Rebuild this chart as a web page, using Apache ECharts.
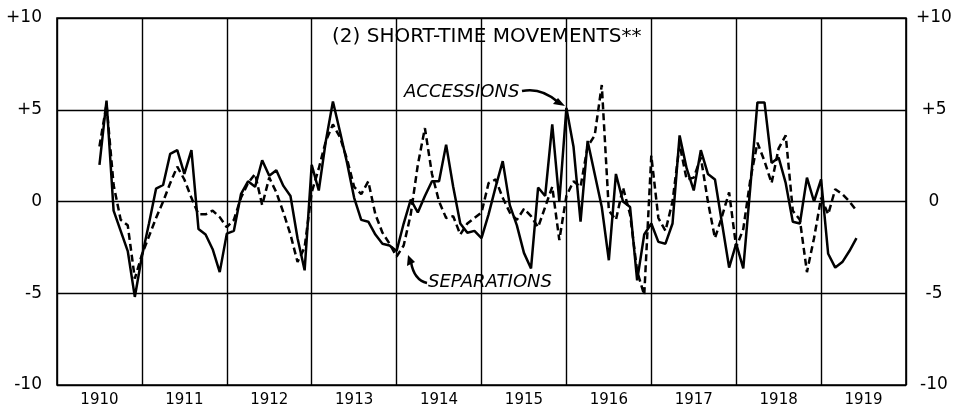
<!DOCTYPE html>
<html><head><meta charset="utf-8">
<script src="https://cdn.jsdelivr.net/npm/echarts@6/dist/echarts.min.js"></script>
<style>html,body{margin:0;padding:0;background:#fff}#c{width:968px;height:414px}</style>
</head><body><div id="c"></div>
<script>
// Year band labels (each band = 12 months, starting Jan 1910)
const years = ['1910','1911','1912','1913','1914','1915','1916','1917','1918','1919'];
// Y tick labels for -10, -5, 0, +5, +10
const yTickLabels = ['-10','-5','0','+5','+10'];
// First plotted month (months counted from Jan 1910): July 1910
const startMonth = 6;
// Separations (solid line), monthly, July 1910 .. June 1919
const separations = [
  2.0, 5.5, -0.5, -1.6, -2.7, -5.2, -3.0, -1.2, 0.7, 0.9,
  2.6, 2.8, 1.5, 2.8, -1.5, -1.8, -2.6, -3.85, -1.75, -1.6,
  0.4, 1.1, 0.8, 2.25, 1.4, 1.7, 0.85, 0.3, -2.0, -3.75,
  2.0, 0.6, 3.3, 5.45, 3.8, 2.1, 0.2, -1.0, -1.1, -1.8,
  -2.3, -2.4, -2.7, -1.2, 0.1, -0.6, 0.3, 1.1, 1.1, 3.1,
  0.8, -1.2, -1.7, -1.6, -2.0, -0.7, 0.8, 2.2, -0.2, -1.3,
  -2.8, -3.65, 0.76, 0.3, 4.2, 0.0, 5.1, 3.0, -1.1, 3.3,
  1.5, -0.3, -3.2, 1.5, 0.0, -0.3, -4.3, -1.8, -1.2, -2.2,
  -2.3, -1.2, 3.6, 1.8, 0.6, 2.8, 1.5, 1.2, -1.2, -3.6,
  -2.3, -3.65, 0.8, 5.4, 5.4, 2.1, 2.4, 1.0, -1.1, -1.2,
  1.3, 0.0, 1.2, -2.85, -3.6, -3.3, -2.7, -2.0
];
// Accessions (dashed line), monthly, July 1910 .. June 1919
const accessions = [
  3.0, 5.3, 0.9, -1.0, -1.3, -4.2, -2.9, -1.9, -0.9, 0.0,
  1.0, 1.9, 1.2, 0.2, -0.7, -0.7, -0.5, -0.85, -1.4, -1.0,
  0.2, 1.0, 1.5, -0.2, 1.3, 0.5, -0.6, -1.8, -3.3, -2.5,
  0.5, 1.8, 3.3, 4.2, 3.5, 2.3, 0.8, 0.4, 1.1, -0.7,
  -1.7, -2.3, -3.0, -2.4, -0.7, 2.0, 4.0, 1.5, 0.0, -0.9,
  -0.8, -1.8, -1.2, -0.9, -0.6, 1.0, 1.2, 0.2, -0.6, -1.0,
  -0.4, -0.8, -1.4, -0.3, 0.8, -2.1, 0.3, 1.1, 0.8, 3.0,
  3.6, 6.35, -0.5, -1.0, 0.76, -0.7, -3.8, -5.1, 2.5, -0.9,
  -1.6, 0.0, 3.1, 1.2, 1.3, 2.4, 0.0, -2.0, -0.8, 0.5,
  -2.5, -1.5, 1.2, 3.2, 2.2, 1.0, 2.9, 3.6, -0.5, -1.0,
  -3.85, -2.0, 0.2, -0.7, 0.67, 0.4, 0.0, -0.5
];

const FONT = 'DejaVu Sans';
const chart = echarts.init(document.getElementById('c'), null, {renderer: 'canvas'});
const yFmt = v => yTickLabels[Math.round((v + 10) / 5)];
const toPairs = arr => arr.map((v, i) => [startMonth + i, v]);

chart.setOption({
  animation: false,
  backgroundColor: '#fff',
  grid: {left: 57, right: 62, top: 18, bottom: 29, show: true, borderColor: '#000', borderWidth: 1.6, backgroundColor: 'transparent'},
  xAxis: [
    {type: 'value', min: 0, max: years.length * 12, interval: 12,
     axisLine: {show: false}, axisTick: {show: false}, axisLabel: {show: false},
     splitLine: {show: true, lineStyle: {color: '#000', width: 1.4}}},
    {type: 'category', data: years, position: 'bottom', boundaryGap: true,
     axisLine: {show: false}, axisTick: {show: false}, splitLine: {show: false},
     axisLabel: {color: '#000', fontSize: 15, fontFamily: FONT, margin: 8}}
  ],
  yAxis: [
    {type: 'value', min: -10, max: 10, interval: 5, position: 'left',
     axisLine: {show: false}, axisTick: {show: false},
     splitLine: {show: true, lineStyle: {color: '#000', width: 1.4}},
     axisLabel: {formatter: yFmt, color: '#000', fontSize: 17, fontFamily: FONT, margin: 15}},
    {type: 'value', min: -10, max: 10, interval: 5, position: 'right',
     axisLine: {show: false}, axisTick: {show: false}, splitLine: {show: false},
     axisLabel: {formatter: yFmt, color: '#000', fontSize: 17, fontFamily: FONT, margin: 28, align: 'center'}}
  ],
  series: [
    {name: 'SEPARATIONS', type: 'line', xAxisIndex: 0, yAxisIndex: 0, data: toPairs(separations),
     symbol: 'none', lineStyle: {color: '#000', width: 2.5}, z: 3},
    {name: 'ACCESSIONS', type: 'line', xAxisIndex: 0, yAxisIndex: 0, data: toPairs(accessions),
     symbol: 'none', lineStyle: {color: '#000', width: 2.5, type: [7, 4]}, z: 3}
  ],
  graphic: [
    {type: 'text', x: 332, y: 37, style: {text: '(2) SHORT-TIME MOVEMENTS**', font: '20px "DejaVu Sans"', fill: '#000', textVerticalAlign: 'middle'}},
    {type: 'text', x: 404, y: 92, style: {text: 'ACCESSIONS', font: 'italic 18px "DejaVu Sans"', fill: '#000', textVerticalAlign: 'middle'}},
    {type: 'text', x: 428, y: 282, style: {text: 'SEPARATIONS', font: 'italic 18px "DejaVu Sans"', fill: '#000', textVerticalAlign: 'middle'}},
    {type: 'bezierCurve', shape: {x1: 522, y1: 91, x2: 558, y2: 102, cpx1: 541, cpy1: 87}, style: {stroke: '#000', lineWidth: 2.5, fill: null}},
    {type: 'polygon', shape: {points: [[565, 106], [553, 104], [558, 98]]}, style: {fill: '#000'}},
    {type: 'bezierCurve', shape: {x1: 427, y1: 283, x2: 411, y2: 262, cpx1: 414, cpy1: 280}, style: {stroke: '#000', lineWidth: 2.5, fill: null}},
    {type: 'polygon', shape: {points: [[408, 255], [407, 266], [415, 262]]}, style: {fill: '#000'}}
  ]
});
</script></body></html>
